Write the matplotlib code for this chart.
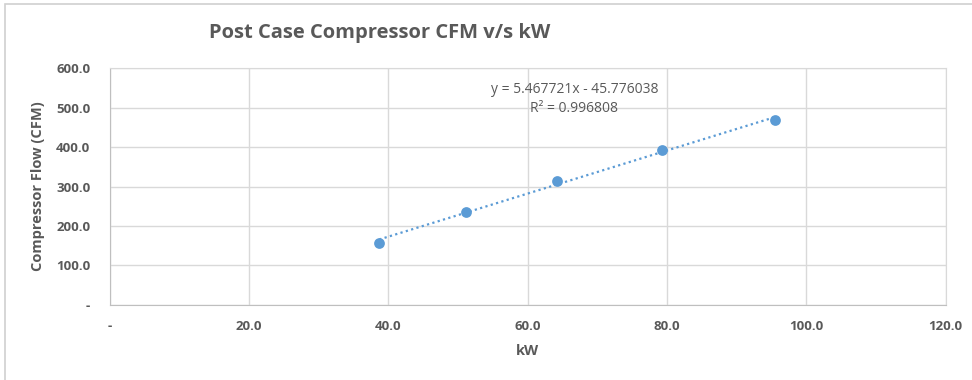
import numpy as np
import matplotlib.pyplot as plt
from matplotlib.patches import Rectangle
from matplotlib.ticker import FuncFormatter

# readings
kw = [38.7, 51.2, 64.2, 79.3, 95.5]
cfm = [157.6, 234.8, 315.0, 392.9, 469.8]
x_ticks = [0, 20, 40, 60, 80, 100, 120]
y_ticks = [0, 100, 200, 300, 400, 500, 600]
trend_slope = 5.467721
trend_icept = -45.776038
trend_r2 = 0.996808

BLUE = "#5B9BD5"
GRID = "#D9D9D9"
TEXT = "#595959"

plt.rcParams["font.family"] = ["Open Sans", "DejaVu Sans"]

fig = plt.figure(figsize=(9.72, 3.8), dpi=100)
W, H = 972, 380
ax = fig.add_axes([109.7 / W, 1 - 304.8 / H, (945.5 - 109.7) / W, (304.8 - 68.4) / H])

# outer chart border (only left/top visible in the crop)
fig.patches.append(Rectangle((4.5 / W, -0.1), 1.2, 1 - 4.0 / H + 0.1,
                             transform=fig.transFigure, fill=False,
                             edgecolor="#D0D0D0", linewidth=1.2))

ax.scatter(kw, cfm, s=60, color=BLUE, zorder=3, linewidths=0)

tx = np.array([min(kw), max(kw)])
ax.plot(tx, trend_slope * tx + trend_icept, color=BLUE, linestyle=(0, (1, 1.5)),
        linewidth=1.6, zorder=2)

ax.text(66.7, 547, f"y = {trend_slope:.6f}x - {abs(trend_icept):.6f}",
        ha="center", va="center", fontsize=10, color=TEXT)
ax.text(66.7, 498, f"R² = {trend_r2:.6f}", ha="center", va="center",
        fontsize=10, color=TEXT)

ax.set_xlim(0, 120)
ax.set_ylim(0, 600)
ax.set_xticks(x_ticks)
ax.set_yticks(y_ticks)
fmt = FuncFormatter(lambda v, p: "-" if v == 0 else f"{v:.1f}")
ax.xaxis.set_major_formatter(fmt)
ax.yaxis.set_major_formatter(fmt)
ax.tick_params(length=0, labelsize=9.5, labelcolor=TEXT, width=0)
ax.tick_params(axis="x", pad=11)
ax.tick_params(axis="y", pad=14)
for lbl in ax.get_xticklabels() + ax.get_yticklabels():
    lbl.set_fontweight("bold")

ax.grid(True, color=GRID, linewidth=1)
ax.set_axisbelow(True)
for side in ["top", "right"]:
    ax.spines[side].set_color(GRID)
for side in ["left", "bottom"]:
    ax.spines[side].set_color("#BFBFBF")

ax.set_xlabel("kW", fontsize=10.5, color=TEXT, fontweight="bold", labelpad=8)
ax.set_ylabel("Compressor Flow (CFM)", fontsize=10.5, color=TEXT,
              fontweight="bold", labelpad=8)

fig.text(380 / W, 1 - 33 / H, "Post Case Compressor CFM v/s kW", ha="center",
         va="center", fontsize=14.5, color=TEXT, fontweight="bold")

fig.savefig("out.png", dpi=100)
